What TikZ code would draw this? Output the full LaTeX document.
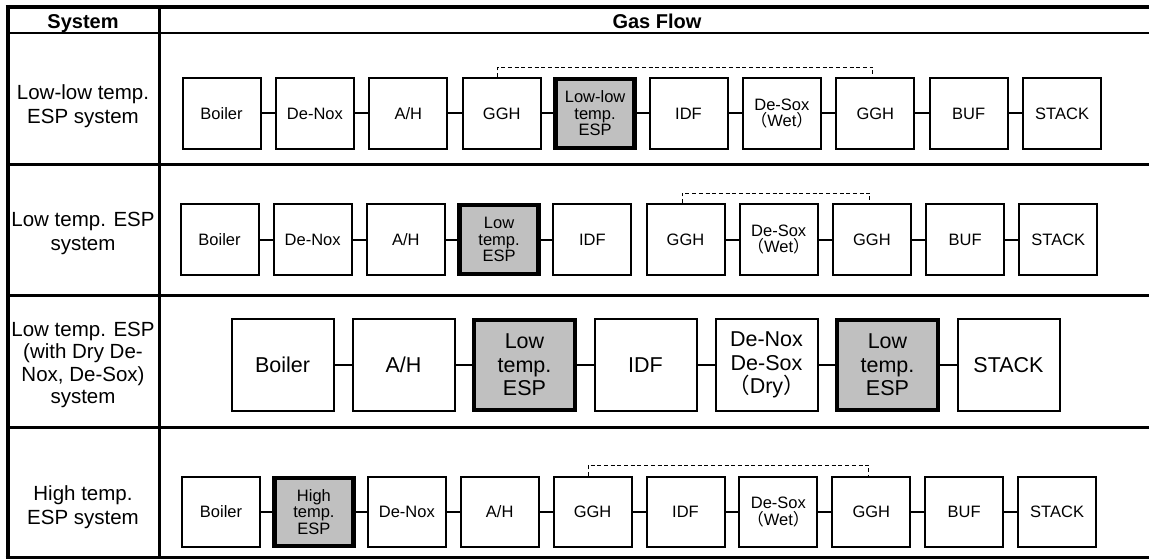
\documentclass[tikz,border=0pt]{standalone}
\usepackage{fontspec}
\setmainfont{Liberation Sans}
\newfontfamily\jpfont{Noto Sans CJK JP}
\definecolor{espgray}{HTML}{C0C0C0}
\newcommand{\lp}{{\jpfont （}}
\newcommand{\rp}{{\jpfont ）}}
\begin{document}
\begin{tikzpicture}[x=1pt,y=-1pt,
  box/.style={draw=black, line width=2pt, fill=white, minimum width=78pt, minimum height=71pt,
    inner sep=0pt, align=center, font=\fontsize{16.5}{16.5}\selectfont},
  esp/.style={box, line width=4.5pt, fill=espgray, minimum width=79pt, minimum height=69pt},
  bigbox/.style={box, minimum width=102pt, minimum height=92pt, font=\fontsize{21.5}{23.5}\selectfont},
  bigesp/.style={bigbox, line width=4.5pt, fill=espgray, minimum width=101pt, minimum height=90pt},
  link/.style={line width=2pt},
  bypass/.style={line width=0.9pt, dash pattern=on 4pt off 2.7pt},
  gridline/.style={line width=2.3pt},
  label/.style={align=center, inner sep=0pt, font=\fontsize{20.5}{24}\selectfont},
  head/.style={inner sep=0pt, anchor=base, font=\bfseries\fontsize{20}{24}\selectfont}
]
\useasboundingbox (0,0) rectangle (1149,559);
\fill[white] (0,0) rectangle (1149,559);

% table frame
\draw[line width=4pt] (5.5,7) -- (1149,7);
\draw[line width=4pt] (7.5,5) -- (7.5,558.5);
\draw[line width=2.7pt] (5.5,557.3) -- (1149,557.3);
\draw[gridline] (7.5,33) -- (1149,33);
\draw[gridline] (7.5,164.5) -- (1149,164.5);
\draw[gridline] (7.5,295.5) -- (1149,295.5);
\draw[gridline] (7.5,427.5) -- (1149,427.5);
\draw[gridline] (159.5,7) -- (159.5,557);

% headers
\node[head] (hsys) at (83,29) {System};
\node[head] (hgas) at (657,29) {Gas Flow};

% system labels
\node[label] (l1) at (83,106) {Low-low temp.\\ESP system};
\node[label] (l2) at (83,233) {Low temp. ESP\\system};
\node[label, font=\fontsize{20.5}{22.5}\selectfont] (l3) at (83,365) {Low temp. ESP\\(with Dry De-\\Nox, De-Sox)\\system};
\node[label] (l4) at (83,507) {High temp.\\ESP system};

% row 1
\node[box] (a1) at (221.5,113.5) {Boiler};
\node[box] (a2) at (314.9,113.5) {De-Nox};
\node[box] (a3) at (408.3,113.5) {A/H};
\node[box] (a4) at (501.7,113.5) {GGH};
\node[esp] (a5) at (595.1,113.5) {Low-low\\temp.\\ESP};
\node[box] (a6) at (688.5,113.5) {IDF};
\node[box] (a7) at (781.9,113.5) {De-Sox\\\lp Wet\rp};
\node[box] (a8) at (875.3,113.5) {GGH};
\node[box] (a9) at (968.7,113.5) {BUF};
\node[box] (a10) at (1062.1,113.5) {STACK};
\foreach \i/\j in {1/2,2/3,3/4,4/5,5/6,6/7,7/8,8/9,9/10} \draw[link] (a\i) -- (a\j);
\draw[bypass] ([xshift=-4pt]a4.north) -- ++(0,-10) -| ([xshift=-2.5pt]a8.north);

% row 2
\node[box] (b1) at (219.5,239.5) {Boiler};
\node[box] (b2) at (312.7,239.5) {De-Nox};
\node[box] (b3) at (405.9,239.5) {A/H};
\node[esp] (b4) at (499.1,239.5) {Low\\temp.\\ESP};
\node[box] (b5) at (592.3,239.5) {IDF};
\node[box] (b6) at (685.5,239.5) {GGH};
\node[box] (b7) at (778.7,239.5) {De-Sox\\\lp Wet\rp};
\node[box] (b8) at (871.9,239.5) {GGH};
\node[box] (b9) at (965.1,239.5) {BUF};
\node[box] (b10) at (1058.3,239.5) {STACK};
\foreach \i/\j in {1/2,2/3,3/4,4/5,6/7,7/8,8/9,9/10} \draw[link] (b\i) -- (b\j);
\draw[bypass] ([xshift=-3.5pt]b6.north) -- ++(0,-10) -| ([xshift=-2pt]b8.north);

% row 3
\node[bigbox] (c1) at (282.5,365) {Boiler};
\node[bigbox] (c2) at (403.5,365) {A/H};
\node[bigesp] (c3) at (524.5,365) {Low\\temp.\\ESP};
\node[bigbox] (c4) at (645.5,365) {IDF};
\node[bigbox] (c5) at (766.5,365) {De-Nox\\De-Sox\\\lp Dry\rp};
\node[bigesp] (c6) at (887.5,365) {Low\\temp.\\ESP};
\node[bigbox] (c7) at (1008.5,365) {STACK};
\foreach \i/\j in {1/2,2/3,3/4,4/5,5/6,6/7} \draw[link] (c\i) -- (c\j);

% row 4
\node[box, minimum height=70pt] (d1) at (221,512) {Boiler};
\node[esp, minimum height=68pt] (d2) at (313.9,512) {High\\temp.\\ESP};
\node[box, minimum height=70pt] (d3) at (406.8,512) {De-Nox};
\node[box, minimum height=70pt] (d4) at (499.7,512) {A/H};
\node[box, minimum height=70pt] (d5) at (592.6,512) {GGH};
\node[box, minimum height=70pt] (d6) at (685.5,512) {IDF};
\node[box, minimum height=70pt] (d7) at (778.4,512) {De-Sox\\\lp Wet\rp};
\node[box, minimum height=70pt] (d8) at (871.3,512) {GGH};
\node[box, minimum height=70pt] (d9) at (964.2,512) {BUF};
\node[box, minimum height=70pt] (d10) at (1057.1,512) {STACK};
\foreach \i/\j in {1/2,2/3,3/4,4/5,5/6,6/7,7/8,8/9,9/10} \draw[link] (d\i) -- (d\j);
\draw[bypass] ([xshift=-4.5pt]d5.north) -- ++(0,-11) -| ([xshift=-2.5pt]d8.north);
\end{tikzpicture}
\end{document}
